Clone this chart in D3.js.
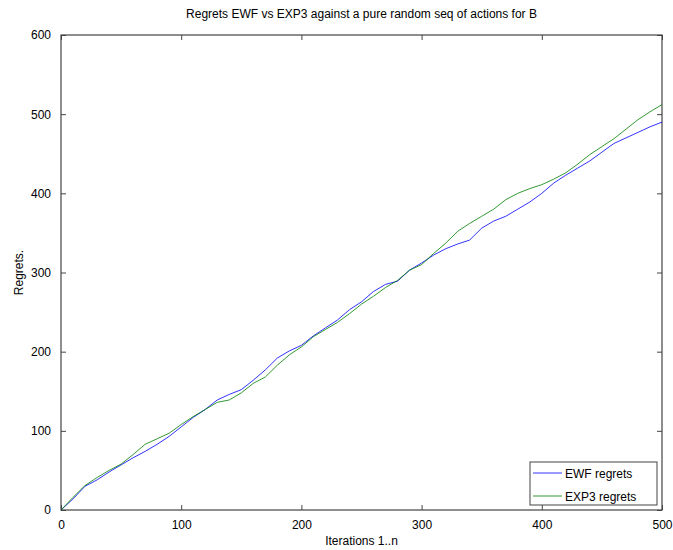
<!DOCTYPE html>
<html>
<head>
<meta charset="utf-8">
<script src="https://cdn.jsdelivr.net/npm/d3@7"></script>
<style>
  body { margin: 0; background: #fff; }
  text { font-family: "Liberation Sans", Arial, sans-serif; fill: #000; }
</style>
</head>
<body>
<svg id="chart" width="673" height="550"></svg>
<script>
var w = 673, h = 550;
var margin = {left: 61, right: 11, top: 35, bottom: 40};

var iterations = d3.range(0, 501, 10);
var ewf = [0, 14, 30, 38, 48, 57, 66, 74, 83, 93,
  105, 117, 127, 139, 146, 152, 164, 177, 192, 201,
  208, 220, 230, 240, 253, 263, 276, 285, 289, 303,
  312, 322, 330, 336, 341, 356, 365, 371, 380, 389,
  400, 413, 423, 432, 441, 452, 463, 470, 477, 484, 490];
var exp3 = [0, 16, 31, 41, 50, 58, 70, 83, 90, 97,
  108, 118, 127, 136, 139, 148, 160, 168, 183, 196,
  206, 219, 228, 237, 248, 260, 270, 281, 290, 303,
  310, 324, 337, 352, 362, 371, 380, 392, 400, 406,
  411, 418, 426, 437, 449, 459, 469, 481, 493, 503, 512];
var xTicks = [0, 100, 200, 300, 400, 500];
var yTicks = [0, 100, 200, 300, 400, 500, 600];
var seriesNames = ["EWF regrets", "EXP3 regrets"];
var seriesColors = ["#0000ff", "#008000"];

var svg = d3.select("#chart");
var x = d3.scaleLinear().domain([0, 500]).range([margin.left, w - margin.right]);
var y = d3.scaleLinear().domain([0, 600]).range([h - margin.bottom, margin.top]);

var axisColor = "#444";
function styleAxis(g) {
  g.select(".domain").remove();
  g.selectAll(".tick line").attr("stroke", axisColor);
  g.selectAll(".tick text").style("font-size", "12px").attr("fill", "#000");
}

// ticks on all four sides, pointing inward
svg.append("g").attr("transform", "translate(0," + y(0) + ")")
  .call(d3.axisBottom(x).tickValues(xTicks).tickSizeInner(-5).tickPadding(10))
  .call(styleAxis);
svg.append("g").attr("transform", "translate(0," + y(600) + ")")
  .call(d3.axisTop(x).tickValues(xTicks).tickSizeInner(-5).tickFormat(""))
  .call(styleAxis);
svg.append("g").attr("transform", "translate(" + x(0) + ",0)")
  .call(d3.axisLeft(y).tickValues(yTicks).tickSizeInner(-5).tickPadding(10))
  .call(styleAxis);
svg.append("g").attr("transform", "translate(" + x(500) + ",0)")
  .call(d3.axisRight(y).tickValues(yTicks).tickSizeInner(-5).tickFormat(""))
  .call(styleAxis);

svg.append("rect")
  .attr("x", x(0)).attr("y", y(600))
  .attr("width", x(500) - x(0)).attr("height", y(0) - y(600))
  .attr("fill", "none").attr("stroke", axisColor).attr("stroke-width", 1.2);

var line = d3.line()
  .x(function(d, i) { return x(iterations[i]); })
  .y(function(d) { return y(d); });

[ewf, exp3].forEach(function(s, k) {
  svg.append("path").datum(s)
    .attr("d", line)
    .attr("fill", "none")
    .attr("stroke", seriesColors[k])
    .attr("stroke-width", 1)
    .attr("opacity", 0.8);
});

svg.append("text")
  .attr("x", (x(0) + x(500)) / 2).attr("y", 18)
  .attr("text-anchor", "middle").style("font-size", "12px")
  .text("Regrets EWF vs EXP3 against a pure random seq of actions for B");

svg.append("text")
  .attr("x", (x(0) + x(500)) / 2).attr("y", 545)
  .attr("text-anchor", "middle").style("font-size", "12px")
  .text("Iterations 1..n");

svg.append("text")
  .attr("transform", "translate(23," + (y(300)) + ")rotate(-90)")
  .attr("text-anchor", "middle").style("font-size", "12px")
  .text("Regrets.");

// legend
var lg = svg.append("g").attr("transform", "translate(530,462)");
lg.append("rect").attr("width", 127).attr("height", 43)
  .attr("fill", "#fff").attr("stroke", axisColor);
seriesNames.forEach(function(name, k) {
  var ly = 11 + k * 23;
  lg.append("line").attr("x1", 3).attr("x2", 32).attr("y1", ly).attr("y2", ly)
    .attr("stroke", seriesColors[k]).attr("opacity", 0.8);
  lg.append("text").attr("x", 35).attr("y", ly + 4.5)
    .style("font-size", "12px").text(name);
});
</script>
</body>
</html>
